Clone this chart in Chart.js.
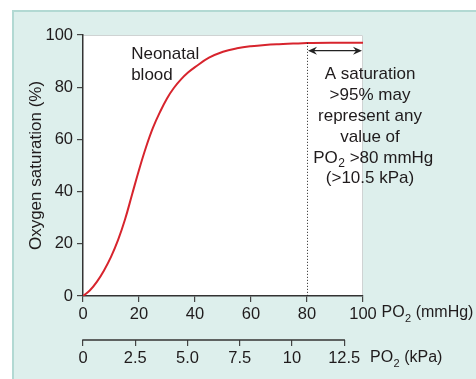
<!DOCTYPE html>
<html>
<head>
<meta charset="utf-8">
<script src="https://cdn.jsdelivr.net/npm/chart.js@4"></script>
<style>
html,body{margin:0;padding:0;background:#fff;}
#wrap{width:476px;height:379px;position:relative;}
</style>
</head>
<body>
<div id="wrap"><canvas id="c" width="476" height="379"></canvas></div>
<script>
// ---- data ----
const po2mmHg = [0, 2.5, 5, 7.5, 10, 12.5, 15, 17.5, 20, 22.5, 25, 27.5, 30, 32.5, 35, 37.5, 40, 45, 50, 55, 60, 65, 70, 75, 80, 90, 100];
const saturation = [0, 2.2, 5.5, 9.8, 15, 21.4, 29.3, 38.8, 48.3, 57, 64.5, 70.5, 75.7, 79.8, 83, 85.6, 87.7, 91.3, 93.6, 94.9, 95.7, 96.2, 96.5, 96.7, 96.9, 97, 97];
const yTicks = [0, 20, 40, 60, 80, 100];
const mmHgTicks = [0, 20, 40, 60, 80, 100];
const kpaTickLabels = ['0', '2.5', '5.0', '7.5', '10', '12.5'];
const curveLabel = ['Neonatal', 'blood'];
const noteLines = ['A saturation', '>95% may', 'represent any', 'value of', 'PO|2| >80 mmHg', '(>10.5 kPa)'];

const FONT = '"Liberation Sans", Arial, sans-serif';
const INK = '#1f1b1c';

function drawSub(ctx, parts, x, y, align, size, drop) {
  const [a, s, b] = parts;
  const subSize = Math.round(size * 0.68);
  ctx.font = size + 'px ' + FONT;
  const wa = ctx.measureText(a).width;
  const wb = ctx.measureText(b).width;
  ctx.font = subSize + 'px ' + FONT;
  const ws = ctx.measureText(s).width;
  const total = wa + ws + wb;
  const sx = align === 'center' ? x - total / 2 : x;
  ctx.textAlign = 'left';
  ctx.textBaseline = 'alphabetic';
  ctx.font = size + 'px ' + FONT;
  ctx.fillText(a, sx, y);
  ctx.font = subSize + 'px ' + FONT;
  ctx.fillText(s, sx + wa + 0.5, y + drop);
  ctx.font = size + 'px ' + FONT;
  ctx.fillText(b, sx + wa + ws + 0.5, y);
}

const decor = {
  id: 'decor',
  beforeDraw(chart) {
    const ctx = chart.ctx, a = chart.chartArea;
    ctx.save();
    ctx.fillStyle = '#ffffff';
    ctx.fillRect(0, 0, chart.width, chart.height);
    ctx.fillStyle = '#ddefec';
    ctx.fillRect(12, 10, chart.width - 12, chart.height - 10);
    ctx.strokeStyle = '#b2d9d3';
    ctx.lineWidth = 2;
    ctx.beginPath();
    ctx.moveTo(13, chart.height);
    ctx.lineTo(13, 11);
    ctx.lineTo(chart.width, 11);
    ctx.stroke();
    ctx.fillStyle = '#ffffff';
    ctx.fillRect(a.left, a.top, a.right - a.left, a.bottom - a.top);
    ctx.strokeStyle = '#cfd3d3';
    ctx.lineWidth = 1;
    ctx.beginPath();
    ctx.moveTo(a.left, a.top + 0.5);
    ctx.lineTo(a.right - 0.5, a.top + 0.5);
    ctx.lineTo(a.right - 0.5, a.bottom);
    ctx.stroke();
    ctx.restore();
  },
  afterDraw(chart) {
    const ctx = chart.ctx;
    const xs = chart.scales.x, ys = chart.scales.y, k = chart.scales.x2;
    ctx.save();
    // dotted line at 80 mmHg
    const x80 = xs.getPixelForValue(80);
    ctx.strokeStyle = '#222';
    ctx.lineWidth = 1;
    ctx.setLineDash([1, 2]);
    ctx.beginPath();
    ctx.moveTo(Math.round(x80) + 0.5, ys.getPixelForValue(97));
    ctx.lineTo(Math.round(x80) + 0.5, ys.getPixelForValue(0));
    ctx.stroke();
    ctx.setLineDash([]);
    // double arrow
    const ay = ys.getPixelForValue(94);
    const ax1 = x80 + 1, ax2 = xs.getPixelForValue(100) - 1;
    ctx.strokeStyle = '#222';
    ctx.fillStyle = '#222';
    ctx.lineWidth = 1.3;
    ctx.beginPath();
    ctx.moveTo(ax1 + 4, ay);
    ctx.lineTo(ax2 - 4, ay);
    ctx.stroke();
    ctx.beginPath();
    ctx.moveTo(ax1, ay); ctx.lineTo(ax1 + 9, ay - 4); ctx.lineTo(ax1 + 6, ay); ctx.lineTo(ax1 + 9, ay + 4); ctx.closePath(); ctx.fill();
    ctx.beginPath();
    ctx.moveTo(ax2, ay); ctx.lineTo(ax2 - 9, ay - 4); ctx.lineTo(ax2 - 6, ay); ctx.lineTo(ax2 - 9, ay + 4); ctx.closePath(); ctx.fill();
    // kPa axis line
    ctx.strokeStyle = '#333';
    ctx.lineWidth = 1.5;
    ctx.beginPath();
    ctx.moveTo(k.getPixelForValue(0) - 0.75, k.top);
    ctx.lineTo(k.getPixelForValue(12.5) + 0.75, k.top);
    ctx.stroke();
    // texts
    ctx.fillStyle = INK;
    ctx.font = '17px ' + FONT;
    ctx.textAlign = 'left';
    ctx.textBaseline = 'alphabetic';
    ctx.fillText(curveLabel[0], xs.getPixelForValue(17.2), ys.getPixelForValue(90.7));
    ctx.fillText(curveLabel[1], xs.getPixelForValue(17.2), ys.getPixelForValue(82.8));
    const cx = xs.getPixelForValue(102.5);
    noteLines.forEach((line, i) => {
      const y = ys.getPixelForValue(83.0 - i * 7.97);
      if (line.indexOf('|') >= 0) {
        drawSub(ctx, line.split('|'), cx + 3, y, 'center', 17, 4);
      } else {
        ctx.textAlign = 'center';
        ctx.textBaseline = 'alphabetic';
        ctx.font = '17px ' + FONT;
        ctx.fillText(line, cx, y);
      }
    });
    // axis titles
    drawSub(ctx, ['PO', '2', ' (mmHg)'], xs.getPixelForValue(106.6), xs.top + 21, 'left', 16, 5);
    drawSub(ctx, ['PO', '2', ' (kPa)'], xs.getPixelForValue(102.5), k.top + 22, 'left', 16, 5);
    ctx.restore();
  }
};

new Chart(document.getElementById('c'), {
  type: 'line',
  data: {
    datasets: [{
      data: po2mmHg.map((x, i) => ({x: x, y: saturation[i]})),
      borderColor: '#d7242d',
      borderWidth: 2,
      pointRadius: 0,
      tension: 0.4,
      fill: false,
      xAxisID: 'x',
      yAxisID: 'y'
    }]
  },
  options: {
    responsive: false,
    animation: false,
    devicePixelRatio: 1,
    layout: {padding: {left: 0, top: 35, right: 113, bottom: 0}},
    plugins: {legend: {display: false}, tooltip: {enabled: false}},
    scales: {
      y: {
        type: 'linear', min: 0, max: 100,
        afterBuildTicks(s) { s.ticks = yTicks.map(v => ({value: v})); },
        afterFit(s) { s.width = 83; },
        grid: {drawOnChartArea: false, tickLength: 6, color: '#444', lineWidth: 1.2},
        border: {color: '#333', width: 1.5},
        ticks: {color: INK, font: {family: FONT, size: 16.5}, padding: 4},
        title: {display: true, text: 'Oxygen saturation (%)', color: INK, font: {family: FONT, size: 17}, padding: {top: 26, bottom: 0}}
      },
      x: {
        type: 'linear', position: 'bottom', min: 0, max: 100,
        afterBuildTicks(s) { s.ticks = mmHgTicks.map(v => ({value: v})); },
        afterFit(s) { s.height = 44; },
        grid: {drawOnChartArea: false, tickLength: 6, color: '#444', lineWidth: 1.2},
        border: {color: '#333', width: 1.5},
        ticks: {color: INK, font: {family: FONT, size: 16.5}, padding: 3, maxRotation: 0}
      },
      x2: {
        type: 'linear', position: 'bottom', axis: 'x', min: 0, max: 13.4,
        afterBuildTicks(s) { s.ticks = kpaTickLabels.map((t, i) => ({value: i * 2.5})); },
        afterFit(s) { s.height = 39; },
        grid: {drawOnChartArea: false, tickLength: 6, color: '#444', lineWidth: 1.2},
        border: {display: false},
        ticks: {color: INK, font: {family: FONT, size: 16.5}, padding: 3, maxRotation: 0,
          callback(v, i) { return kpaTickLabels[i]; }}
      }
    }
  },
  plugins: [decor]
});
</script>
</body>
</html>
